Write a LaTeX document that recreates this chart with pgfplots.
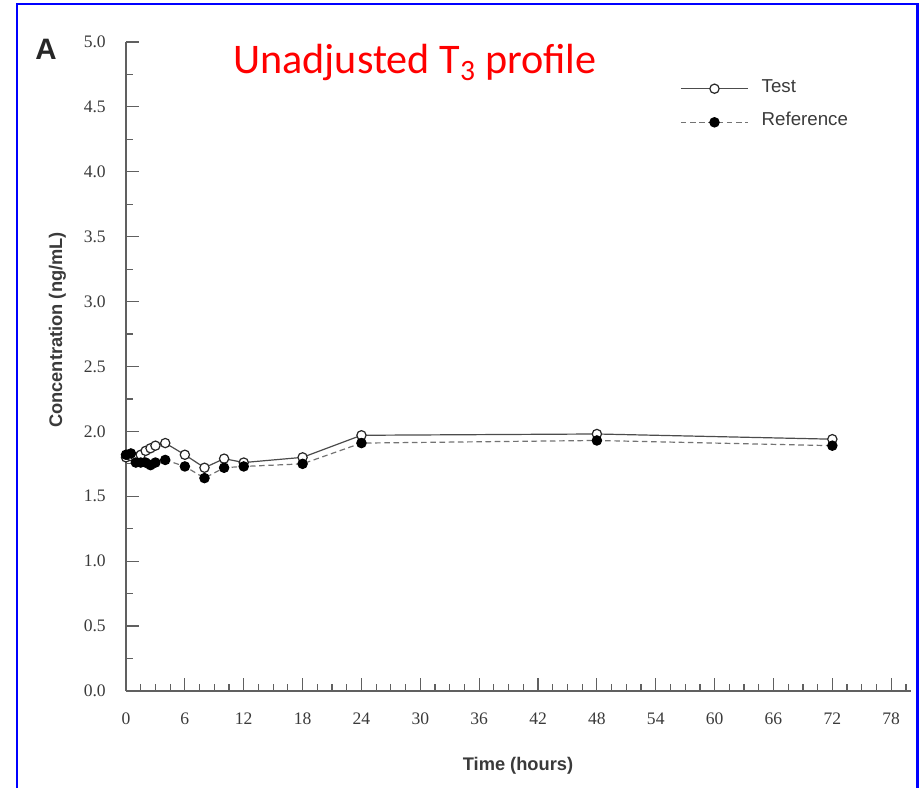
\documentclass[border=0pt]{standalone}
\usepackage{fontspec}
\setmainfont{Liberation Serif}
\newfontfamily\arialf{Liberation Sans}
\newfontfamily\calibrif{Carlito}
\usepackage{pgfplots}
\pgfplotsset{compat=1.18}
\usepackage{pgfplotstable}

\definecolor{axgray}{HTML}{606060}
\definecolor{lblgray}{HTML}{3A3A3A}
\definecolor{framblue}{HTML}{0000FF}

% hours, ng/mL
\pgfplotstableread{
t    c
0    1.80
0.5  1.81
1    1.80
1.5  1.82
2    1.85
2.5  1.87
3    1.89
4    1.91
6    1.82
8    1.72
10   1.79
12   1.76
18   1.80
24   1.97
48   1.98
72   1.94
}\testdata
\pgfplotstableread{
t    c
0    1.82
0.5  1.83
1    1.76
1.5  1.76
2    1.76
2.5  1.74
3    1.76
4    1.78
6    1.73
8    1.64
10   1.72
12   1.73
18   1.75
24   1.91
48   1.93
72   1.89
}\refdata

\begin{document}
\begin{tikzpicture}
\begin{scope}[x=0.25mm,y=0.25mm]
  \useasboundingbox (0,0) rectangle (922,788);
  \draw[framblue,line width=0.6mm] (17,0) -- (17,783.7) -- (917.5,783.7) -- (917.5,0);
  \node[font=\arialf\bfseries\fontsize{21}{21}\selectfont,text=black!85] at (46,739) {A};
  \node[anchor=base west,inner sep=0pt,font=\calibrif\fontsize{30}{30}\selectfont,text=red]
    at (233,714.7) {Unadjusted T\textsubscript{3} profile};
  \node[anchor=base,inner sep=0pt,font=\arialf\bfseries\fontsize{13}{13}\selectfont,text=lblgray]
    at (518,17) {Time (hours)};
  \node[anchor=base,rotate=90,inner sep=0pt,font=\arialf\bfseries\fontsize{13}{13}\selectfont,text=lblgray]
    at (62,458) {Concentration (ng/mL)};
\end{scope}
\begin{axis}[
  at={(31.5mm,24.25mm)}, anchor=south west,
  scale only axis, width=196.2mm, height=162.25mm,
  xmin=0, xmax=80, ymin=0, ymax=5,
  axis lines*=left,
  axis line style={axgray,line width=0.33mm},
  xtick={0,6,...,78},
  minor xtick={0,1.5,...,79.5},
  ytick={0,0.5,...,5},
  minor ytick={0.25,0.75,...,4.75},
  tick align=inside,
  major tick length=3.25mm, minor tick length=1.75mm,
  every tick/.style={axgray,line width=0.3mm},
  /pgf/number format/assume math mode=true,
  yticklabel style={/pgf/number format/fixed,/pgf/number format/fixed zerofill,/pgf/number format/precision=1},
  ticklabel style={font=\fontsize{12.5}{12.5}\selectfont,text=lblgray},
  xticklabel style={anchor=north,inner sep=0pt,yshift=-5.5mm},
  yticklabel style={anchor=east,inner sep=0pt,xshift=-5mm},
  legend cell align=left,
  legend image code/.code={
    \draw[mark repeat=2,mark phase=2] plot coordinates {(0mm,0mm) (8.4mm,0mm) (16.8mm,0mm)};},
  legend style={draw=none,fill=none,at={(0.7059,0.9386)},anchor=north west,
    inner sep=0pt,column sep=3.25mm,row sep=5.1mm,
    font=\arialf\fontsize{13.3}{13.3}\selectfont,text=lblgray,
    nodes={inner sep=0pt,text height=2.5mm,text depth=0.8mm}},
]
\addplot[color=black!70,line width=0.3mm,mark=*,mark size=3.3pt,
  mark options={solid,fill=white,draw=black!85,line width=0.3mm}]
  table[x=t,y=c] {\testdata};
\addlegendentry{Test}
\addplot[color=black!55,line width=0.3mm,dash pattern=on 1.4mm off 0.9mm,mark=*,mark size=3.3pt,
  mark options={solid,fill=black,draw=black}]
  table[x=t,y=c] {\refdata};
\addlegendentry{Reference}
\end{axis}
\end{tikzpicture}
\end{document}
